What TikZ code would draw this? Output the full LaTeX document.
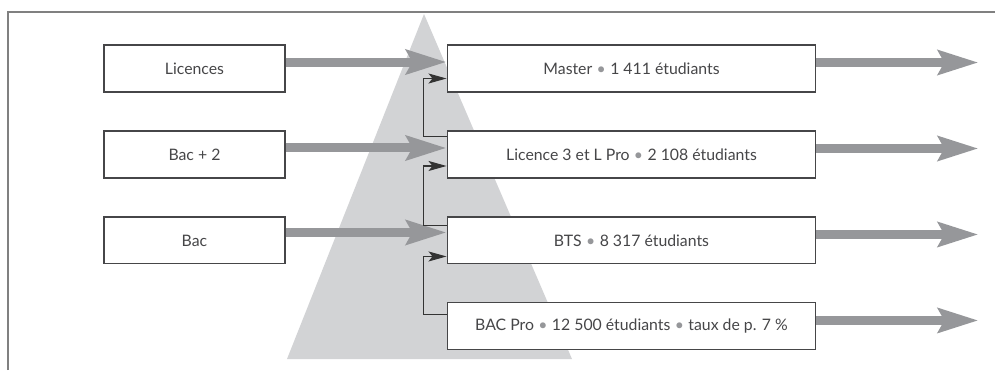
\documentclass[tikz,border=0pt]{standalone}
\usepackage{fontspec}
\setmainfont{Lato}
\usepackage{tikz}
\definecolor{pyramid}{RGB}{210,211,213}
\definecolor{flowgray}{RGB}{150,151,154}
\definecolor{inkgray}{RGB}{70,70,72}
\usetikzlibrary{positioning,arrows.meta}
\newcommand{\dotsep}{\;{\color{flowgray}\textbullet}\;}

\begin{document}
\begin{tikzpicture}[x=0.02cm,y=-0.02cm,node distance =1.72cm ,on grid ,
font=\fontsize{9}{11}\selectfont ,
source/.style ={ rectangle ,draw=inkgray ,fill=white ,text=inkgray ,
line width=0.6pt ,minimum width =3.62cm ,minimum height =0.94cm},
level/.style ={ source ,minimum width =7.38cm},
flow/.style ={ draw=flowgray ,line width=0.18cm ,
-{Stealth[length=0.8cm,width=0.48cm,inset=0.12cm]}},
feed/.style ={ draw=black!80 ,line width=0.6pt ,
-{Stealth[length=0.36cm,width=0.2cm,inset=0.08cm]}}]
  \useasboundingbox (0,0) rectangle (995,370);
  % frame and pyramid
  \draw[gray ,line width=1pt] (8,370) -- (8,12) -- (995,12);
  \fill[pyramid] (424,14) -- (572,359) -- (287,359) -- cycle;
  % boxes
  \node[source](licences) at (194.5,68.5){Licences};
  \node[source](bacdeux)[below = of licences]{Bac + 2};
  \node[source](bac)[below = of bacdeux]{Bac};
  \node[level](master) at (631.5,68.5){Master\dotsep 1 411 étudiants};
  \node[level](licpro)[below = of master]{Licence 3 et L Pro\dotsep 2 108 étudiants};
  \node[level](bts)[below = of licpro]{BTS\dotsep 8 317 étudiants};
  \node[level](bacpro)[below = of bts]{BAC Pro\dotsep 12 500 étudiants\dotsep taux de p. 7 \%};
  % entries
  \path[flow] ([yshift=0.13cm]licences.east) -- ([yshift=0.13cm]master.west);
  \path[flow] ([yshift=0.13cm]bacdeux.east) -- ([yshift=0.13cm]licpro.west);
  \path[flow] ([yshift=0.16cm]bac.east) -- ([yshift=0.16cm]bts.west);
  % exits
  \foreach \lvl in {master,licpro,bts,bacpro}{
    \coordinate (out-\lvl) at ([yshift=0.12cm,xshift=3.24cm]\lvl.east);
    \path[flow] ([yshift=0.12cm]\lvl.east) -- (out-\lvl);
  }
  % promotions
  \path[feed] ([yshift=0.36cm]licpro.west) -- ++(-0.46cm,0) |- ([yshift=-0.2cm]master.west);
  \path[feed] ([yshift=0.30cm]bts.west) -- ++(-0.46cm,0) |- ([yshift=-0.23cm]licpro.west);
  \path[feed] ([yshift=0.24cm]bacpro.west) -- ++(-0.46cm,0) |- ([yshift=-0.32cm]bts.west);
\end{tikzpicture}
\end{document}
